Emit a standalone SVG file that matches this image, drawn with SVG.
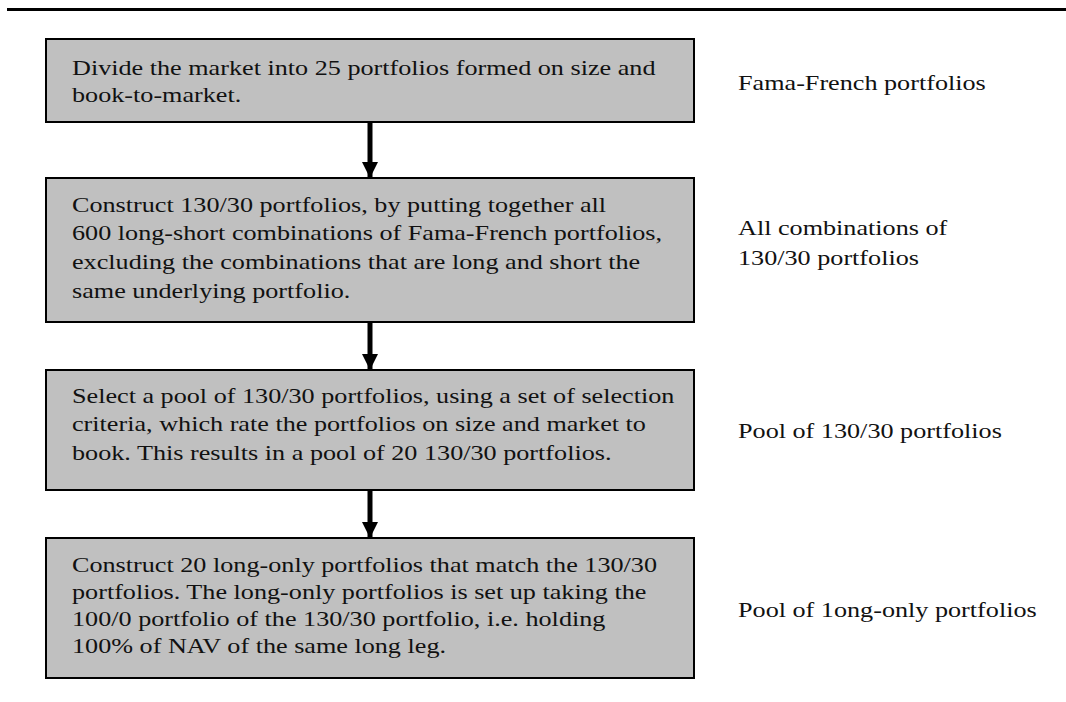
<svg xmlns="http://www.w3.org/2000/svg" width="1066" height="702" viewBox="0 0 1066 702">
<style>
.box{fill:#c0c0c0;stroke:#000;stroke-width:2}
.t{font-family:"Liberation Serif","Times New Roman",serif;font-size:21.5px;fill:#111}
.conn{stroke:#000;stroke-width:5;fill:none}
</style>
<defs>
<marker id="ah" markerWidth="3.2" markerHeight="3.2" refX="3.2" refY="1.6" orient="auto" markerUnits="strokeWidth">
<path d="M0,0 L3.2,1.6 L0,3.2 Z" fill="#000"/>
</marker>
</defs>
<rect width="1066" height="702" fill="#fff"/>
<line x1="7" y1="9.5" x2="1066" y2="9.5" stroke="#000" stroke-width="3"/>
<g id="node1">
<rect class="box" x="46" y="39" width="648" height="83"/>
<text class="t" transform="translate(72,75) scale(1.218,1)">Divide the market into 25 portfolios formed on size and</text>
<text class="t" transform="translate(72,102) scale(1.218,1)">book-to-market.</text>
</g>
<g id="node2">
<rect class="box" x="46" y="178" width="648" height="144"/>
<text class="t" transform="translate(72,212) scale(1.218,1)">Construct 130/30 portfolios, by putting together all</text>
<text class="t" transform="translate(72,240) scale(1.218,1)">600 long-short combinations of Fama-French portfolios,</text>
<text class="t" transform="translate(72,269) scale(1.218,1)">excluding the combinations that are long and short the</text>
<text class="t" transform="translate(72,298) scale(1.218,1)">same underlying portfolio.</text>
</g>
<g id="node3">
<rect class="box" x="46" y="370" width="648" height="120"/>
<text class="t" transform="translate(72,403) scale(1.218,1)">Select a pool of 130/30 portfolios, using a set of selection</text>
<text class="t" transform="translate(72,431) scale(1.218,1)">criteria, which rate the portfolios on size and market to</text>
<text class="t" transform="translate(72,460) scale(1.218,1)">book. This results in a pool of 20 130/30 portfolios.</text>
</g>
<g id="node4">
<rect class="box" x="46" y="538" width="648" height="140"/>
<text class="t" transform="translate(72,572) scale(1.218,1)">Construct 20 long-only portfolios that match the 130/30</text>
<text class="t" transform="translate(72,599) scale(1.218,1)">portfolios. The long-only portfolios is set up taking the</text>
<text class="t" transform="translate(72,626) scale(1.218,1)">100/0 portfolio of the 130/30 portfolio, i.e. holding</text>
<text class="t" transform="translate(72,653) scale(1.218,1)">100% of NAV of the same long leg.</text>
</g>
<g id="labels">
<text class="t" transform="translate(738,90) scale(1.218,1)">Fama-French portfolios</text>
<text class="t" transform="translate(738,235) scale(1.218,1)">All combinations of</text>
<text class="t" transform="translate(738,265) scale(1.218,1)">130/30 portfolios</text>
<text class="t" transform="translate(738,438) scale(1.218,1)">Pool of 130/30 portfolios</text>
<text class="t" transform="translate(738,617) scale(1.218,1)">Pool of 1ong-only portfolios</text>
</g>
<g id="connectors">
<line class="conn" x1="370" y1="122" x2="370" y2="178" marker-end="url(#ah)"/>
<line class="conn" x1="370" y1="322" x2="370" y2="370" marker-end="url(#ah)"/>
<line class="conn" x1="370" y1="490" x2="370" y2="538" marker-end="url(#ah)"/>
</g>
</svg>
